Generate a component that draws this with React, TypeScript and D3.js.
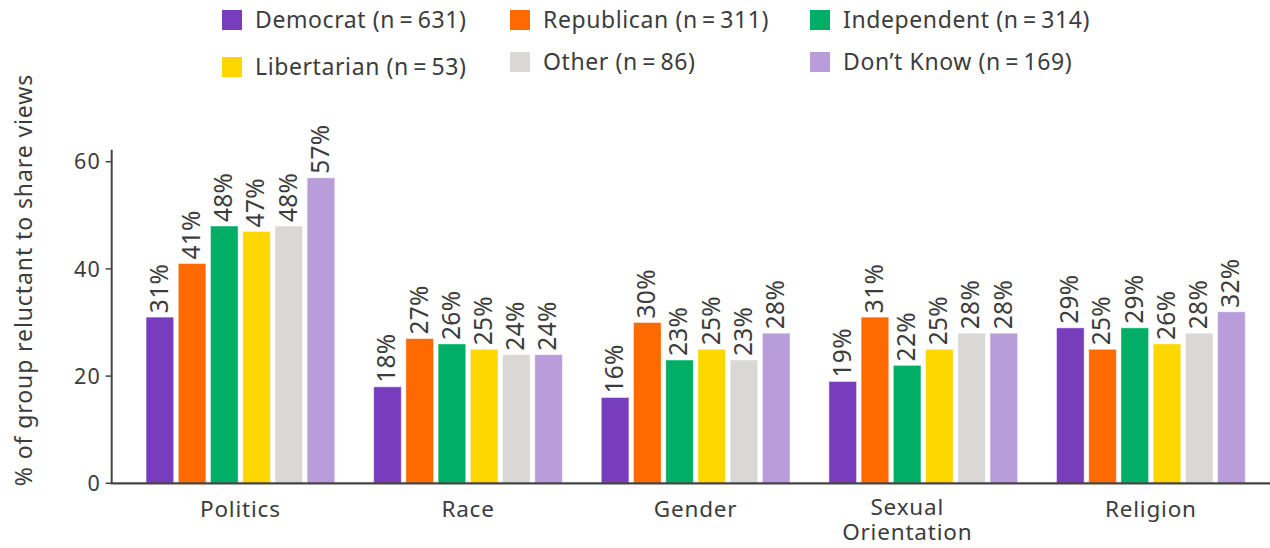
import React from 'react';
import * as d3 from 'd3';

const categories = ['Politics', 'Race', 'Gender', 'Sexual Orientation', 'Religion'];
const parties = ['Democrat', 'Republican', 'Independent', 'Libertarian', 'Other', "Don't Know"];
const legendLabels = [
  'Democrat (n\u2009=\u2009631)',
  'Republican (n\u2009=\u2009311)',
  'Independent (n\u2009=\u2009314)',
  'Libertarian (n\u2009=\u200953)',
  'Other (n\u2009=\u200986)',
  'Don\u2019t Know (n\u2009=\u2009169)',
];
const colors = ['#773dbd', '#ff6a00', '#00ae65', '#ffd700', '#d9d8d6', '#b99ddb'];

// values per party, in category order
const democrat = [31, 18, 16, 19, 29];
const republican = [41, 27, 30, 31, 25];
const independent = [48, 26, 23, 22, 29];
const libertarian = [47, 25, 25, 25, 26];
const other = [48, 24, 23, 28, 28];
const dontKnow = [57, 24, 28, 28, 32];
const series = [democrat, republican, independent, libertarian, other, dontKnow];

const yTicks = [0, 20, 40, 60];

const W = 1270;
const H = 548;
const FONT = '"Noto Sans", "Open Sans", sans-serif';
const TEXT = '#3c3c3c';
const AXIS = '#444';

const App = () => {
  const x0 = d3.scaleBand()
    .domain(categories)
    .range([111.7, 1279.6])
    .paddingInner(0.171)
    .paddingOuter(0.151);

  const x1 = d3.scaleBand()
    .domain(parties)
    .range([0, x0.bandwidth()])
    .paddingInner(0.143)
    .paddingOuter(0);

  const y = d3.scaleLinear()
    .domain([0, 60])
    .range([483.3, 161.7]);

  const axisX = 111.7;
  const base = y(0);

  // legend grid: 3 columns, 2 rows
  const legendCols = [222, 510, 810];
  const legendRowCenters = [[20, 20, 20], [67, 62, 62]];

  return (
    <svg
      width={W}
      height={H}
      style={{ position: 'absolute', left: 0, top: 0, background: '#fff' }}
      fontFamily={FONT}
    >
      {/* legend */}
      {legendLabels.map((label, i) => {
        const col = i % 3;
        const row = Math.floor(i / 3);
        const cy = legendRowCenters[row][col];
        return (
          <g key={label} transform={`translate(${legendCols[col]}, ${cy})`}>
            <rect x={0} y={-10} width={20} height={20} fill={colors[i]} />
            <text x={33} y={0} dy="0.36em" fontSize={23} letterSpacing={0.6} fill={TEXT}>{label}</text>
          </g>
        );
      })}

      {/* y axis title */}
      <text
        transform={`translate(32, 280) rotate(-90)`}
        textAnchor="middle"
        fontSize={23}
        letterSpacing={0.9}
        fill={TEXT}
      >
        % of group reluctant to share views
      </text>

      {/* bars */}
      {categories.map((cat, ci) => (
        <g key={cat} transform={`translate(${x0(cat)}, 0)`}>
          {parties.map((p, pi) => {
            const v = series[pi][ci];
            const bx = x1(p) as number;
            const bw = x1.bandwidth();
            return (
              <g key={p}>
                <rect
                  x={bx}
                  y={y(v)}
                  width={bw}
                  height={base - y(v)}
                  fill={colors[pi]}
                  stroke="rgba(255,255,255,0.45)"
                  strokeWidth={1}
                />
                <text
                  transform={`translate(${bx + bw / 2 - 1}, ${y(v) - 4}) rotate(-90)`}
                  dy="0.36em"
                  fontSize={24.5}
                  letterSpacing={0.3}
                  fill={TEXT}
                >
                  {`${v}%`}
                </text>
              </g>
            );
          })}
        </g>
      ))}

      {/* y axis */}
      <line x1={axisX} x2={axisX} y1={y(60) - 12} y2={base} stroke={AXIS} strokeWidth={2} />
      {yTicks.map((t) => (
        <g key={t} transform={`translate(${axisX}, ${y(t)})`}>
          <line x1={-6} x2={0} stroke={AXIS} strokeWidth={1.5} />
          <text x={-11} dy="0.36em" textAnchor="end" fontSize={21.5} letterSpacing={1} fill={TEXT}>{t}</text>
        </g>
      ))}

      {/* x axis */}
      <line x1={axisX - 1} x2={W} y1={base} y2={base} stroke={AXIS} strokeWidth={2.2} />
      {categories.map((cat) => {
        const words = cat === 'Sexual Orientation' ? ['Sexual', 'Orientation'] : [cat];
        const cx = (x0(cat) as number) + x0.bandwidth() / 2 - (words.length > 1 ? 16 : 0);
        const top = words.length > 1 ? 515 : 517;
        return words.map((w, wi) => (
          <text
            key={w}
            x={cx}
            y={top + wi * 25}
            textAnchor="middle"
            fontSize={22.5}
            letterSpacing={0.8}
            fill={TEXT}
          >
            {w}
          </text>
        ));
      })}
    </svg>
  );
};

export default App;
